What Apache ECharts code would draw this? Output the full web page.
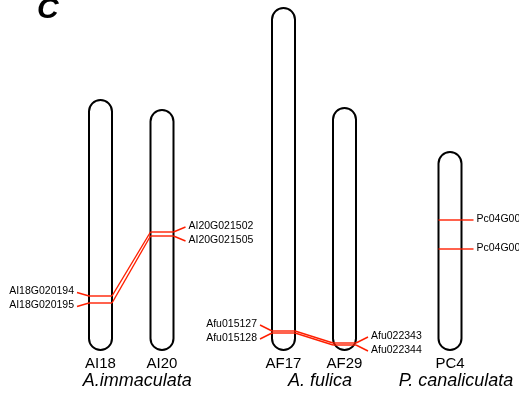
<!DOCTYPE html>
<html><head><meta charset="utf-8">
<script src="https://cdn.jsdelivr.net/npm/echarts@6/dist/echarts.min.js"></script>
<style>html,body{margin:0;padding:0;background:#fff}#c{width:519px;height:395px}</style>
</head><body><div id="c"></div>
<script>
// ---------- DATA ----------
const chromosomes = ['AI18', 'AI20', 'AF17', 'AF29', 'PC4'];
const chromLengths = [62.5, 60, 85.5, 60.5, 49.5];          // relative length units
const speciesNames = ['A.immaculata', 'A. fulica', 'P. canaliculata'];
const speciesMembers = [[0, 1], [2, 3], [4]];
const geneNames = ['AI18G020194', 'AI18G020195', 'AI20G021502', 'AI20G021505',
                   'Afu015127', 'Afu015128', 'Afu022343', 'Afu022344',
                   'Pc04G002286', 'Pc04G002290'];
const geneChrom = [0, 0, 1, 1, 2, 2, 3, 3, 4, 4];
const genePos   = [49, 50.75, 30.5, 31.5, 80.75, 81.25, 58.75, 59.25, 17, 24.25]; // from chromosome start
const links = [[0, 2], [1, 3], [4, 6], [5, 7]];

// ---------- LAYOUT ----------
const chromX = [100.5, 162, 283.5, 344.5, 450];
const labelSide = [-1, 1, -1, 1, 1];
const speciesOffset = 6;
const HALF = 11.5, CONN = 12, GAP = 3, MINSEP = 14;
const RED = '#ff1f00';
const FONT = "'Liberation Sans', Arial, sans-serif";

const chart = echarts.init(document.getElementById('c'), null, {renderer: 'canvas'});

function geneY(g) { return chromLengths[geneChrom[g]] - genePos[g]; }

const chromData = chromosomes.map((n, i) => [chromX[i], chromLengths[i], i]);
const geneData = geneNames.map((n, g) => [chromX[geneChrom[g]], geneY(g), g]);
const linkData = links.map((l, k) => [chromX[geneChrom[l[0]]], geneY(l[0]), chromX[geneChrom[l[1]]], geneY(l[1]), k]);

function labelOffsets(api) {
  const res = {};
  chromosomes.forEach((c, ci) => {
    const gs = geneNames.map((n, g) => g).filter(g => geneChrom[g] === ci);
    const ys = gs.map(g => api.coord([chromX[ci], geneY(g)])[1]);
    if (gs.length === 2 && Math.abs(ys[1] - ys[0]) < MINSEP) {
      const mid = (ys[0] + ys[1]) / 2;
      const s = ys[0] <= ys[1] ? 1 : -1;
      res[gs[0]] = mid - s * MINSEP / 2;
      res[gs[1]] = mid + s * MINSEP / 2;
    } else {
      gs.forEach((g, k) => res[g] = ys[k]);
    }
  });
  return res;
}

const option = {
  animation: false,
  backgroundColor: '#fff',
  grid: {left: 0, right: 0, top: 2, bottom: 45},
  xAxis: {type: 'value', min: 0, max: 519, show: false},
  yAxis: {type: 'value', min: 0, max: 87, show: false},
  graphic: [{
    type: 'text', left: 37, top: -5,
    style: {text: 'C', font: "italic bold 30px " + FONT, fill: '#000'}
  }],
  series: [
    {
      type: 'custom', clip: false, z: 2,
      data: chromData,
      renderItem: function (params, api) {
        const i = api.value(2);
        const top = api.coord([api.value(0), api.value(1)]);
        const bot = api.coord([api.value(0), 0]);
        const children = [{
          type: 'rect',
          shape: {x: top[0] - HALF, y: top[1], width: 2 * HALF, height: bot[1] - top[1], r: HALF},
          style: {fill: '#fff', stroke: '#000', lineWidth: 2}
        }, {
          type: 'text',
          style: {text: chromosomes[i], x: top[0], y: bot[1] + 13.5, align: 'center', verticalAlign: 'middle',
                  font: '15px ' + FONT, fill: '#000'}
        }];
        speciesMembers.forEach((m, s) => {
          if (m[0] === i) {
            const xs = m.map(ci => api.coord([chromX[ci], 0])[0]);
            const cx = (Math.min(...xs) + Math.max(...xs)) / 2 + speciesOffset;
            children.push({
              type: 'text',
              style: {text: speciesNames[s], x: cx, y: bot[1] + 31, align: 'center', verticalAlign: 'middle',
                      font: 'italic 18px ' + FONT, fill: '#000'}
            });
          }
        });
        return {type: 'group', children: children};
      }
    },
    {
      type: 'custom', clip: false, z: 3,
      data: geneData,
      renderItem: function (params, api) {
        const g = api.value(2);
        const ci = geneChrom[g];
        const p = api.coord([api.value(0), api.value(1)]);
        const ly = labelOffsets(api)[g];
        const side = labelSide[ci];
        const edge = p[0] + side * HALF;
        const end = edge + side * CONN;
        return {type: 'group', children: [
          {type: 'line', shape: {x1: p[0] - HALF, y1: p[1], x2: p[0] + HALF, y2: p[1]},
           style: {stroke: RED, lineWidth: 1.4}},
          {type: 'line', shape: {x1: edge, y1: p[1], x2: end, y2: ly},
           style: {stroke: RED, lineWidth: 1.4}},
          {type: 'text', style: {text: geneNames[g], x: end + side * GAP, y: ly - 1,
            align: side < 0 ? 'right' : 'left', verticalAlign: 'middle', font: '10.5px ' + FONT, fill: '#000'}}
        ]};
      }
    },
    {
      type: 'custom', clip: false, z: 3,
      data: linkData,
      renderItem: function (params, api) {
        const a = api.coord([api.value(0), api.value(1)]);
        const b = api.coord([api.value(2), api.value(3)]);
        const dir = b[0] > a[0] ? 1 : -1;
        return {type: 'line', shape: {x1: a[0] + dir * HALF, y1: a[1], x2: b[0] - dir * HALF, y2: b[1]},
                style: {stroke: RED, lineWidth: 1.4}};
      }
    }
  ]
};
chart.setOption(option);
</script>
</body></html>
